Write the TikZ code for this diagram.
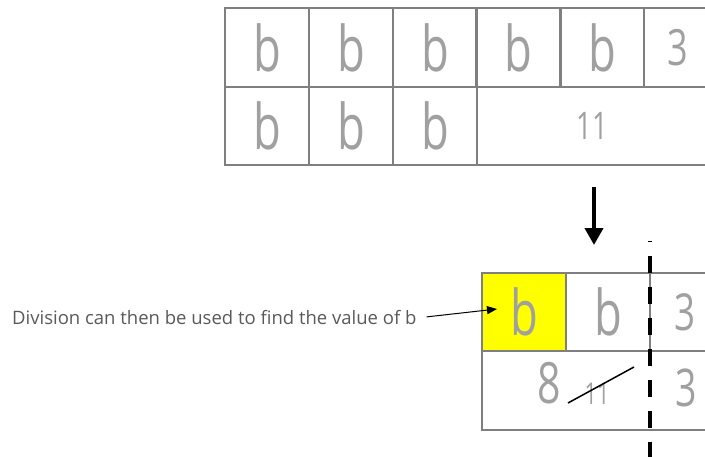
\documentclass[tikz,border=0pt]{standalone}
\usepackage{fontspec}
\usepackage{tikz}
\usetikzlibrary{arrows.meta,positioning,calc}
\newfontfamily\labelfont{Open Sans}
\newfontfamily\handfont[FakeStretch=0.72]{Open Sans}
\definecolor{barline}{RGB}{127,127,127}
\definecolor{handgray}{RGB}{160,160,160}
\definecolor{labelgray}{RGB}{89,89,89}
\definecolor{barhigh}{RGB}{255,255,0}
\tikzset{
    cell/.style={rectangle, draw=barline, line width=2.5pt, outer sep=0pt, inner sep=0pt,
        minimum width=84pt, text=handgray},
    hand/.style={inner sep=0pt, text=handgray},
    cutline/.style={line width=4pt, black, dash pattern=on 17pt off 14pt, dash phase=16pt},
    bigarrow/.style={line width=4pt, -{Triangle[length=17pt,width=18pt]}},
    pointer/.style={line width=1pt, -{Triangle[length=10pt,width=8pt]}},
}
\newcommand{\hb}{\handfont\fontsize{63}{63}\selectfont b}
\newcommand{\hd}[1]{\handfont\fontsize{#1}{#1}\selectfont}

\begin{document}
\begin{tikzpicture}[x=1pt, y=-1pt]
    \useasboundingbox (0,0) rectangle (705,456);
    \clip (0,0) rectangle (705,456);

    % Top bar, first row
    \foreach \x/\name in {267/t1, 351/t2, 435/t3, 518.5/t4, 602/t5} {
        \node[cell, minimum height=79pt] (\name) at (\x, 47.5) {\hb};
    }
    \node[cell, minimum height=79pt, minimum width=68pt] (t6) at (678, 47.5) {\hd{50}3};

    % Top bar, second row
    \foreach \x/\name in {267/u1, 351/u2, 435/u3} {
        \node[cell, minimum height=78pt] (\name) at (\x, 126) {\hb};
    }
    \node[cell, minimum height=78pt, minimum width=230pt] (u4) at (592, 126) {\hd{38}11};

    \draw[bigarrow] (594,187) -- (594,245);

    % Bottom bar
    \node[cell, minimum height=78pt, fill=barhigh] (y1) at (524, 312) {\hb};
    \node[cell, minimum height=78pt] (y2) at (608, 312) {\hb};
    \node[cell, minimum height=78pt, minimum width=70pt] (y3) at (685, 312) {\hd{51}3};
    \node[cell, minimum height=79pt, minimum width=240pt] (z1) at (602, 390.5) {};
    \node[hand] (eight) at (549, 383) {\hd{57}8};
    \node[hand] (eleven) at (597, 394) {\hd{30}11};
    \node[hand] (three) at (686, 388) {\hd{52}3};
    \draw[line width=1.5pt] ($(eleven.center)+(-29,9)$) -- ($(eleven.center)+(37,-27)$);

    % Dividing line
    \coordinate (cuttop) at (650,241);
    \coordinate (cutbot) at (650,460);
    \draw[cutline] (cuttop) -- (cutbot);

    % Label
    \node[anchor=west, inner sep=0pt, text=labelgray, font=\labelfont\fontsize{18.5}{18.5}\selectfont]
        (label) at (12,318) {Division can then be used to find the value of b};
    \coordinate (tip) at ($(y1.west)+(15,-3)$);
    \draw[pointer, shorten <=10pt] (label.east) -- (tip);
\end{tikzpicture}
\end{document}
